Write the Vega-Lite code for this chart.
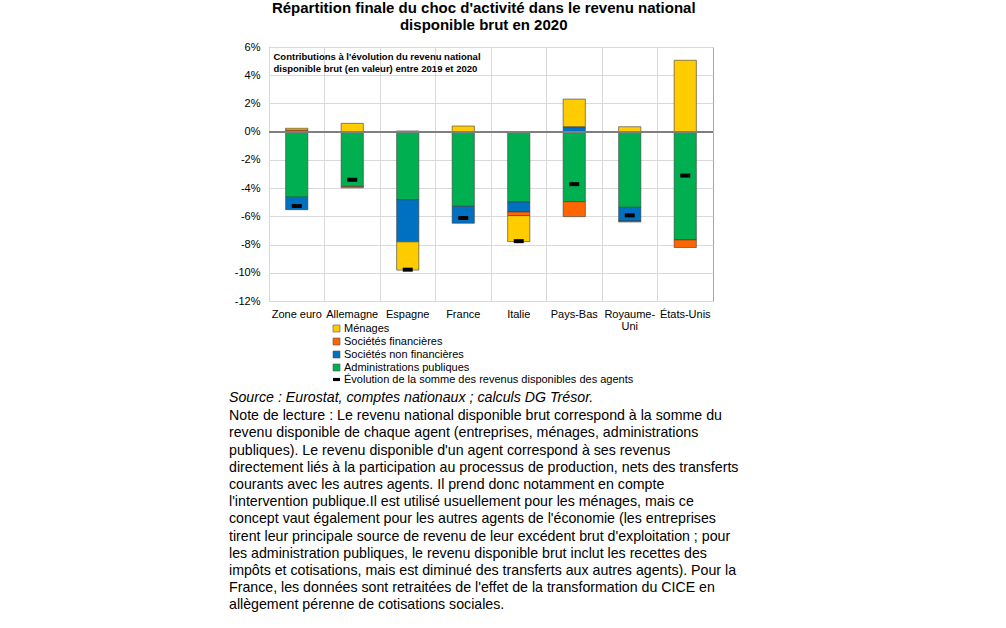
{
  "$schema": "https://vega.github.io/schema/vega-lite/v6.json",
  "autosize": {"type": "pad"},
  "padding": {"left": 228, "top": 0, "right": 10, "bottom": 0},
  "background": "white",
  "config": {
    "font": "Liberation Sans",
    "view": {"stroke": "#a6a6a6", "strokeWidth": 1}
  },
  "title": {
    "text": ["Répartition finale du choc d'activité dans le revenu national", "disponible brut en 2020"],
    "font": "Liberation Sans",
    "fontSize": 15,
    "fontWeight": "bold",
    "lineHeight": 17,
    "color": "black",
    "anchor": "middle",
    "offset": 8
  },
  "datasets": {
    "contrib": [
      {"pays": "Zone euro", "serie": "Administrations publiques", "rang": 1, "valeur": -4.64},
      {"pays": "Zone euro", "serie": "Sociétés non financières", "rang": 2, "valeur": -0.89},
      {"pays": "Zone euro", "serie": "Sociétés financières", "rang": 3, "valeur": 0.12},
      {"pays": "Zone euro", "serie": "Ménages", "rang": 4, "valeur": 0.12},
      {"pays": "Allemagne", "serie": "Administrations publiques", "rang": 1, "valeur": -3.88},
      {"pays": "Allemagne", "serie": "Sociétés non financières", "rang": 2, "valeur": 0},
      {"pays": "Allemagne", "serie": "Sociétés financières", "rang": 3, "valeur": -0.1},
      {"pays": "Allemagne", "serie": "Ménages", "rang": 4, "valeur": 0.59},
      {"pays": "Espagne", "serie": "Administrations publiques", "rang": 1, "valeur": -4.82},
      {"pays": "Espagne", "serie": "Sociétés non financières", "rang": 2, "valeur": -2.99},
      {"pays": "Espagne", "serie": "Sociétés financières", "rang": 3, "valeur": 0.05},
      {"pays": "Espagne", "serie": "Ménages", "rang": 4, "valeur": -2.0},
      {"pays": "France", "serie": "Administrations publiques", "rang": 1, "valeur": -5.29},
      {"pays": "France", "serie": "Sociétés non financières", "rang": 2, "valeur": -1.2},
      {"pays": "France", "serie": "Sociétés financières", "rang": 3, "valeur": 0},
      {"pays": "France", "serie": "Ménages", "rang": 4, "valeur": 0.4},
      {"pays": "Italie", "serie": "Administrations publiques", "rang": 1, "valeur": -4.99},
      {"pays": "Italie", "serie": "Sociétés non financières", "rang": 2, "valeur": -0.7},
      {"pays": "Italie", "serie": "Sociétés financières", "rang": 3, "valeur": -0.26},
      {"pays": "Italie", "serie": "Ménages", "rang": 4, "valeur": -1.84},
      {"pays": "Pays-Bas", "serie": "Administrations publiques", "rang": 1, "valeur": -4.96},
      {"pays": "Pays-Bas", "serie": "Sociétés non financières", "rang": 2, "valeur": 0.35},
      {"pays": "Pays-Bas", "serie": "Sociétés financières", "rang": 3, "valeur": -1.06},
      {"pays": "Pays-Bas", "serie": "Ménages", "rang": 4, "valeur": 1.96},
      {"pays": "Royaume-Uni", "serie": "Administrations publiques", "rang": 1, "valeur": -5.36},
      {"pays": "Royaume-Uni", "serie": "Sociétés non financières", "rang": 2, "valeur": -0.97},
      {"pays": "Royaume-Uni", "serie": "Sociétés financières", "rang": 3, "valeur": -0.07},
      {"pays": "Royaume-Uni", "serie": "Ménages", "rang": 4, "valeur": 0.35},
      {"pays": "États-Unis", "serie": "Administrations publiques", "rang": 1, "valeur": -7.67},
      {"pays": "États-Unis", "serie": "Sociétés non financières", "rang": 2, "valeur": 0},
      {"pays": "États-Unis", "serie": "Sociétés financières", "rang": 3, "valeur": -0.54},
      {"pays": "États-Unis", "serie": "Ménages", "rang": 4, "valeur": 5.06}
    ],
    "total": [
      {"pays": "Zone euro", "total": -5.27},
      {"pays": "Allemagne", "total": -3.41},
      {"pays": "Espagne", "total": -9.78},
      {"pays": "France", "total": -6.12},
      {"pays": "Italie", "total": -7.76},
      {"pays": "Pays-Bas", "total": -3.72},
      {"pays": "Royaume-Uni", "total": -5.93},
      {"pays": "États-Unis", "total": -3.11}
    ]
  },
  "resolve": {"scale": {"color": "independent"}, "legend": {"color": "independent"}},
  "vconcat": [
    {
      "width": 444,
      "height": 254,
      "title": {
        "text": "Source : Eurostat, comptes nationaux ; calculs DG Trésor.",
        "subtitle": [
          "Note de lecture : Le revenu national disponible brut correspond à la somme du",
          "revenu disponible de chaque agent (entreprises, ménages, administrations",
          "publiques). Le revenu disponible d'un agent correspond à ses revenus",
          "directement liés à la participation au processus de production, nets des transferts",
          "courants avec les autres agents. Il prend donc notamment en compte",
          "l'intervention publique.Il est utilisé usuellement pour les ménages, mais ce",
          "concept vaut également pour les autres agents de l'économie (les entreprises",
          "tirent leur principale source de revenu de leur excédent brut d'exploitation ; pour",
          "les administration publiques, le revenu disponible brut inclut les recettes des",
          "impôts et cotisations, mais est diminué des transferts aux autres agents). Pour la",
          "France, les données sont retraitées de l'effet de la transformation du CICE en",
          "allègement pérenne de cotisations sociales."
        ],
        "orient": "bottom",
        "anchor": "start",
        "frame": "group",
        "dx": -40,
        "offset": 6,
        "font": "Liberation Sans",
        "fontSize": 14.2,
        "fontStyle": "italic",
        "fontWeight": "normal",
        "color": "black",
        "subtitleFont": "Liberation Sans",
        "subtitleFontSize": 14.2,
        "subtitleColor": "black",
        "subtitleLineHeight": 17.2,
        "subtitlePadding": 4
      },
      "resolve": {"scale": {"color": "independent"}, "legend": {"color": "independent"}},
      "layer": [
        {
          "data": {"name": "contrib"},
          "mark": {"type": "bar", "width": {"band": 0.4}, "stroke": "#3a3a3a", "strokeWidth": 0.6},
          "encoding": {
            "x": {
              "field": "pays", "type": "nominal", "sort": null,
              "scale": {"paddingInner": 0, "paddingOuter": 0},
              "axis": {
                "title": null, "grid": true, "bandPosition": 0, "gridColor": "#d9d9d9",
                "domain": false, "ticks": false, "labelAngle": 0, "labelFontSize": 11,
                "labelColor": "black", "labelPadding": 7, "labelLineHeight": 12,
                "labelExpr": "datum.value == 'Royaume-Uni' ? ['Royaume-', 'Uni'] : datum.value"
              }
            },
            "y": {
              "field": "valeur", "type": "quantitative", "stack": "zero",
              "scale": {"domain": [-12, 6], "nice": false},
              "axis": {
                "values": [-12, -10, -8, -6, -4, -2, 0, 2, 4, 6],
                "tickCount": 20,
                "labelOverlap": false,
                "labelExpr": "datum.value + '%'",
                "grid": true, "gridColor": "#d9d9d9", "domain": false, "ticks": false,
                "labelFontSize": 11, "labelColor": "black", "labelPadding": 9,
                "title": ["Contributions à l'évolution du revenu national", "disponible brut (en valeur) entre 2019 et 2020"],
                "titleAngle": 0, "titleX": 4, "titleY": 4, "titleAlign": "left", "titleBaseline": "top",
                "titleFontSize": 9.5, "titleFontWeight": "bold", "titleColor": "black", "titleLineHeight": 12
              }
            },
            "color": {
              "field": "serie", "type": "nominal",
              "scale": {
                "domain": ["Ménages", "Sociétés financières", "Sociétés non financières", "Administrations publiques"],
                "range": ["#ffcc00", "#ff6600", "#0070c0", "#00b050"]
              },
              "legend": {
                "title": null, "orient": "none", "legendX": 62, "legendY": 276,
                "padding": 0, "labelFontSize": 11, "labelColor": "black", "labelOffset": 2,
                "symbolSize": 49, "rowPadding": 1, "symbolStrokeWidth": 0.6, "symbolStrokeColor": "#555555",
                "labelLimit": 400
              }
            },
            "order": {"field": "rang", "type": "quantitative"}
          }
        },
        {
          "data": {"name": "total"},
          "mark": {"type": "rule", "color": "#7f7f7f", "strokeWidth": 1.5},
          "encoding": {"y": {"datum": 0, "type": "quantitative"}}
        },
        {
          "data": {"name": "total"},
          "mark": {"type": "tick", "orient": "horizontal", "size": 10, "thickness": 4, "opacity": 1},
          "encoding": {
            "x": {"field": "pays", "type": "nominal", "sort": null},
            "y": {"field": "total", "type": "quantitative"},
            "color": {
              "datum": "Évolution de la somme des revenus disponibles des agents",
              "scale": {"range": ["#000000"]},
              "legend": {
                "title": null, "orient": "none", "legendX": 62, "legendY": 327,
                "padding": 0, "labelFontSize": 11, "labelColor": "black", "labelOffset": 2,
                "symbolSize": 49, "symbolType": "M-1,-0.45L1,-0.45L1,0.45L-1,0.45Z",
                "symbolFillColor": "#000000", "symbolOpacity": 1, "symbolStrokeWidth": 0,
                "labelLimit": 400
              }
            }
          }
        }
      ]
    }
  ]
}
